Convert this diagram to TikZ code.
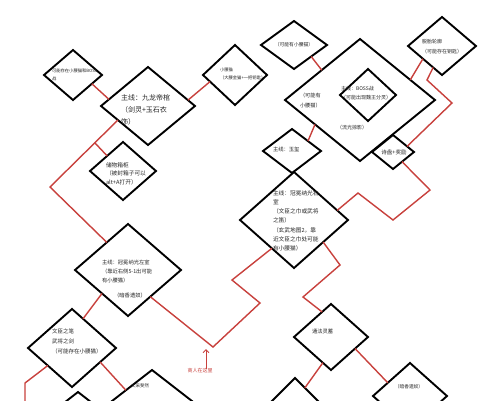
\documentclass[tikz,border=0pt]{standalone}
\usepackage{fontspec}
\setmainfont{Noto Sans CJK SC}
\usetikzlibrary{shapes.geometric,calc}
\usetikzlibrary{arrows.meta}
\definecolor{lnColor}{HTML}{C8413D}
\newcommand{\fs}[2]{\fontsize{#1}{#2}\selectfont}

\begin{document}
\begin{tikzpicture}[x=1pt, y=-1pt,
	room/.style={draw, diamond, line width=1.9pt, inner sep=0, outer sep=0},
	note/.style={inner sep=0, outer sep=0, text=black!85, anchor=base west},
	link/.style={draw=lnColor, line width=1.4pt}]
	\useasboundingbox (0,0) rectangle (479,400);
	\fill[white] (0,0) rectangle (479,400);
	\clip (0,0) rectangle (479,400);

	% rooms
	\node[room, minimum width=58pt, minimum height=50pt] (r1) at (73,75) {};
	\node[room, minimum width=94pt, minimum height=78pt] (r2) at (148,106) {};
	\node[room, minimum width=64pt, minimum height=60pt] (r3) at (235,75) {};
	\node[room, minimum width=66pt, minimum height=48pt] (r4) at (294,45) {};
	\node[room, minimum width=150pt, minimum height=122pt] (r5) at (360,100) {};
	\node[room, minimum width=56pt, minimum height=52pt] (r6) at (368,95) {};
	\node[room, minimum width=68pt, minimum height=58pt] (r7) at (442,46) {};
	\node[room, minimum width=42pt, minimum height=34pt] (r8) at (393,152) {};
	\node[room, minimum width=58pt, minimum height=44pt] (r9) at (292,151) {};
	\node[room, minimum width=108pt, minimum height=96pt] (r10) at (294,220) {};
	\node[room, minimum width=66pt, minimum height=58pt] (r11) at (123,171) {};
	\node[room, minimum width=106pt, minimum height=92pt] (r12) at (128,270) {};
	\node[room, minimum width=88pt, minimum height=78pt] (r13) at (72,348) {};
	\node[room, minimum width=116pt, minimum height=90pt] (r14) at (152,415) {};
	\node[room, minimum width=90pt, minimum height=70pt] (r15) at (78,427) {};
	\node[room, minimum width=74pt, minimum height=66pt] (r16) at (331,337) {};
	\node[room, minimum width=74pt, minimum height=66pt] (r17) at (410,396) {};
	\node[room, minimum width=68pt, minimum height=68pt] (r18) at (295,412) {};

	% texts
	\node[note, font=\fs{4.3}{8}] (r1t) at (52,72.6) {\begin{tabular}[t]{@{}l@{}} 可能存在小腰猫和BOSS\\ 战 \end{tabular}};
	\node[note, font=\fs{7}{12}] (r2t) at (121,100.7) {\begin{tabular}[t]{@{}l@{}} 主线：九龙帝棺\\ （剑灵+玉石衣\\ 饰） \end{tabular}};
	\node[note, font=\fs{4.3}{7.5}] (r3t) at (220,71.6) {\begin{tabular}[t]{@{}l@{}} 小腰猫\\ （大腰金猫+一把钥匙） \end{tabular}};
	\node[note, font=\fs{4.8}{8}, anchor=center] (r4t) at (294,45) {（可能有小腰猫）};
	\node[note, font=\fs{5.2}{10}] (r5t) at (300,97) {\begin{tabular}[t]{@{}l@{}} （可能有\\ 小腰猫） \end{tabular}};
	\node[note, font=\fs{5}{8}, anchor=center] (r5s) at (352,128) {（流光掠影）};
	\node[note, font=\fs{5}{9}] (r6t) at (341,90.9) {\begin{tabular}[t]{@{}l@{}} 主线：BOSS战\\ （可能出现魏王分灵） \end{tabular}};
	\node[note, font=\fs{5}{10}] (r7t) at (422,43.9) {\begin{tabular}[t]{@{}l@{}} 脱胎轮廓\\ （可能存在钥匙） \end{tabular}};
	\node[note, font=\fs{5.5}{8}, anchor=center] (r8t) at (394,152) {诗盘+奖励};
	\node[note, font=\fs{5.3}{8}] (r9t) at (273,151) {主线：玉玺};
	\node[note, font=\fs{5.7}{9.2}] (r10t) at (273,195.2) {\begin{tabular}[t]{@{}l@{}} 主线：冠冕纳光右\\ 室\\ （文臣之巾或武将\\ 之笛）\\ （玄武地图2，靠\\ 近文臣之巾处可能\\ 有小腰猫） \end{tabular}};
	\node[note, font=\fs{5.7}{8.5}] (r11t) at (106,167.2) {\begin{tabular}[t]{@{}l@{}} 储物箱柜\\ （被封箱子可以\\ alt+A打开） \end{tabular}};
	\node[note, font=\fs{5.3}{9.3}] (r12t) at (102,264) {\begin{tabular}[t]{@{}l@{}} 主线：冠冕纳光左室\\ （靠近右侧5-1出可能\\ 有小腰猫） \end{tabular}};
	\node[note, font=\fs{5.3}{8}, anchor=center] (r12s) at (130,295) {（暗香遗奴）};
	\node[note, font=\fs{5.5}{10}] (r13t) at (52,333.1) {\begin{tabular}[t]{@{}l@{}} 文臣之笔\\ 武将之剑\\ （可能存在小腰猫） \end{tabular}};
	\node[note, font=\fs{4.5}{8}] (r14t) at (131,387.7) {文采斐然};
	\node[note, font=\fs{5.3}{8}] (r16t) at (312,333) {通法灵蓄};
	\node[note, font=\fs{4.7}{8}, anchor=center] (r17t) at (409,387) {（暗香遗奴）};
	\node[note, font=\fs{5}{8}, anchor=center, text=lnColor] (shop) at (200,371) {商人在这里};

	% bends
	\coordinate (b1) at (50,187);
	\coordinate (b2) at (427,80);
	\coordinate (b3) at (452,103);
	\coordinate (b4) at (430,190);
	\coordinate (b5) at (393,220);
	\coordinate (b6) at (358,193);
	\coordinate (b7) at (232,280);
	\coordinate (b8) at (260,303);
	\coordinate (b9) at (213,347);
	\coordinate (b10) at (340,265);
	\coordinate (b11) at (303,297);
	\coordinate (b12) at (25,383);
	\coordinate (end1) at (25,401);
	\coordinate (mark) at (206,349);

	% links
	\draw[link] ($(r1.east)!.35!(r1.south)$) -- ($(r2.west)!.17!(r2.north)$);
	\draw[link] ($(r2.east)!.15!(r2.north)$) -- ($(r3.west)!.22!(r3.south)$);
	\draw[link] ($(r2.west)!.36!(r2.south)$) coordinate (s1) -- (b1) -- ($(r12.west)!.6!(r12.north)$);
	\draw[link] ($(s1)!.34!(b1)$) -- ($(r11.west)!.52!(r11.north)$);
	\draw[link] ($(r4.east)!.48!(r4.south)$) -- ($(r5.west)!.49!(r5.north)$);
	\draw[link] ($(r5.west)!.4!(r5.south)$) -- ($(r9.east)!.45!(r9.north)$);
	\draw[link] ($(r7.west)!.44!(r7.south)$) -- ($(r5.north)!.67!(r5.east)$);
	\draw[link] ($(r7.south)!.26!(r7.west)$) -- (b2) -- (b3) -- ($(r8.north)!.67!(r8.east)$);
	\draw[link] ($(r8.east)!.57!(r8.south)$) -- (b4) -- (b5) -- (b6) -- ($(r10.north)!.8!(r10.east)$);
	\draw[link] ($(r10.west)!.59!(r10.south)$) -- (b7) -- (b8) -- (b9) -- ($(r12.east)!.58!(r12.south)$);
	\draw[link] ($(r10.east)!.46!(r10.south)$) -- (b10) -- (b11) -- ($(r16.west)!.76!(r16.north)$);
	\draw[link] ($(r12.west)!.51!(r12.south)$) -- ($(r13.north)!.25!(r13.east)$);
	\draw[link] ($(r13.west)!.45!(r13.south)$) -- (b12) -- (end1);
	\draw[link] ($(r13.east)!.36!(r13.south)$) -- ($(r14.west)!.55!(r14.north)$);
	\draw[link] ($(r16.south)!.22!(r16.west)$) -- ($(r18.north)!.29!(r18.east)$);
	\draw[link] ($(r16.east)!.35!(r16.south)$) -- ($(r17.west)!.4!(r17.north)$);
	\draw[lnColor, line width=1pt, -{Straight Barb[length=3pt,width=6pt]}] (shop.north -| mark) -- (mark);
\end{tikzpicture}
\end{document}
